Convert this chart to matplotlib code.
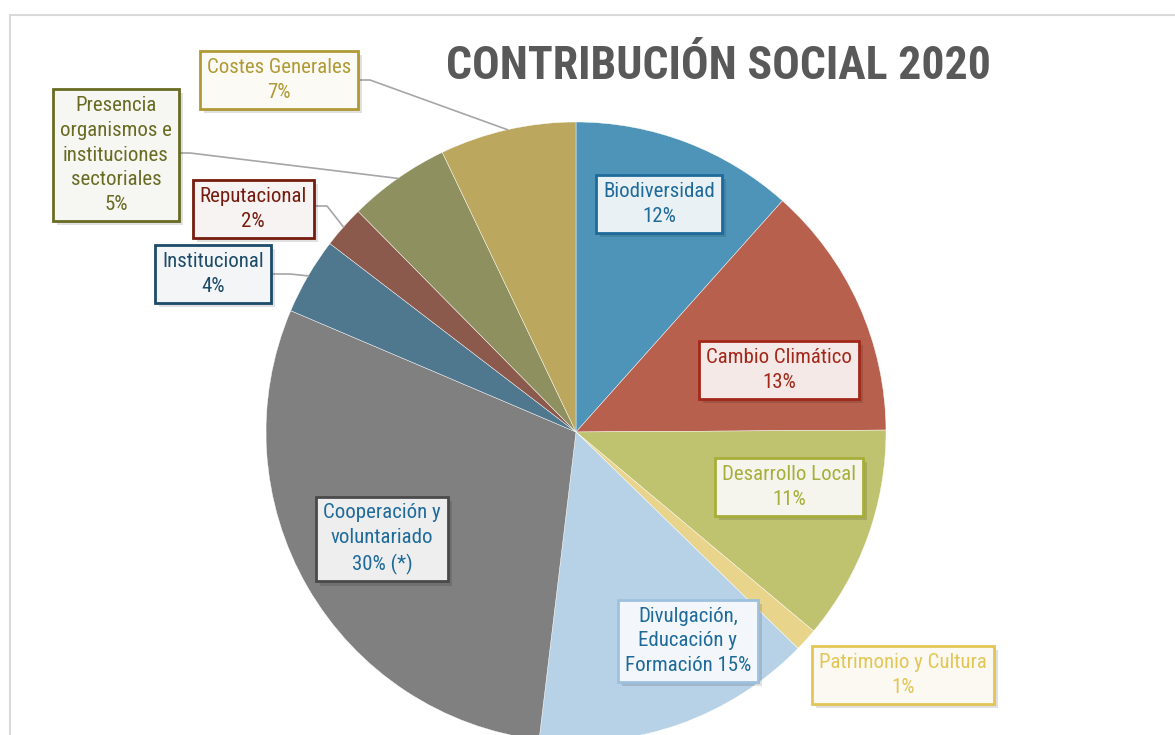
import matplotlib
matplotlib.use("Agg")
import matplotlib.pyplot as plt
import matplotlib.patheffects as pe
from matplotlib.patches import Rectangle
from matplotlib import font_manager as fm
import numpy as np

# ---- data ----
categories = ["Biodiversidad", "Cambio Climático", "Desarrollo Local", "Patrimonio y Cultura",
              "Divulgación, Educación y Formación", "Cooperación y voluntariado",
              "Institucional", "Reputacional", "Presencia organismos e instituciones sectoriales",
              "Costes Generales"]
values = [11.6, 13.3, 11.2, 1.2, 14.6, 29.5, 4.0, 2.2, 5.3, 7.1]
label_texts = ["Biodiversidad\n12%", "Cambio Climático\n13%", "Desarrollo Local\n11%",
               "Patrimonio y Cultura\n1%", "Divulgación,\nEducación y\nFormación 15%",
               "Cooperación y\nvoluntariado\n30% (*)", "Institucional\n4%", "Reputacional\n2%",
               "Presencia\norganismos e\ninstituciones\nsectoriales\n5%", "Costes Generales\n7%"]
title = "CONTRIBUCIÓN SOCIAL 2020"

slice_colors = ["#4E94B8", "#B8604E", "#BFC26E", "#E8D48A", "#B7D2E6",
                "#808080", "#4F788F", "#8C594D", "#8E905F", "#BBA75E"]
edge_colors = ["#1E6B9B", "#A3281A", "#A8AE3A", "#E3C655", "#9DC1DE",
               "#4A4A4A", "#1D4B6A", "#761C0F", "#686B22", "#B09A35"]
text_colors = ["#1E6B9B", "#A3281A", "#A8AE3A", "#E3C655", "#1E6B9B",
               "#1E6B9B", "#1D4B6A", "#761C0F", "#686B22", "#B09A35"]
face_colors = ["#EAF1F5", "#F5E9E7", "#F5F5EE", "#FBF9F2", "#F3F7FB",
               "#EEEEEE", "#F3F5F7", "#F7F3F2", "#F6F6F3", "#FBFAF5"]
# box centres in pixels (from top-left)
box_pos = [(659, 204), (779, 370), (789, 487), (903, 675), (688, 641),
           (382, 539), (213, 274), (253, 209), (116, 155), (279, 80)]

W, H = 1175, 735
fig = plt.figure(figsize=(W / 100, H / 100), dpi=100)
ax = fig.add_axes([0, 0, 1, 1])

names = {f.name for f in fm.fontManager.ttflist}
cond = None
for cand in ["Roboto Condensed", "Liberation Sans Narrow", "DejaVu Sans Condensed"]:
    if cand in names:
        cond = cand
        break
label_font = cond if cond else ("Roboto" if "Roboto" in names else "DejaVu Sans")
title_font = cond if cond else label_font

# border
ax.add_patch(Rectangle((10, -5), W + 10, H - 15 + 5, fill=False, ec="#D9D9D9", lw=1.5, zorder=0))

cx, cy, R = 576, H - 432, 310
wedges, _ = ax.pie(values, colors=slice_colors, startangle=90, counterclock=False,
                   center=(cx, cy), radius=R, frame=True,
                   wedgeprops=dict(edgecolor="white", linewidth=0.3))
ax.set_xlim(0, W)
ax.set_ylim(0, H)
ax.set_aspect("equal")
ax.axis("off")

# leader lines for outside labels: (index, box exit point, elbow point)
leaders = {9: [(360, 80), (370, 80)], 8: [(180, 153), (190, 153)],
           7: [(316, 206), (327, 206)], 6: [(272, 274), (290, 274)]}
for i, pts in leaders.items():
    w = wedges[i]
    th = np.deg2rad((w.theta1 + w.theta2) / 2)
    ex, ey = w.center[0] + w.r * np.cos(th), w.center[1] + w.r * np.sin(th)
    xs = [p[0] for p in pts] + [ex]
    ys = [H - p[1] for p in pts] + [ey]
    ax.plot(xs, ys, color="#A6A6A6", lw=1.2, zorder=3)

fs = 15 if cond else 13
for i, txt in enumerate(label_texts):
    x, y = box_pos[i]
    t = ax.text(x, H - y, txt, ha="center", va="center", fontsize=fs, family=label_font,
                fontweight="normal", color=text_colors[i], linespacing=1.38, zorder=5,
                bbox=dict(boxstyle="square,pad=0.33", fc=face_colors[i], ec=edge_colors[i], lw=2))
    t.get_bbox_patch().set_path_effects([
        pe.SimplePatchShadow(offset=(3, -3), alpha=0.12, shadow_rgbFace="#000000"),
        pe.SimplePatchShadow(offset=(1.5, -1.5), alpha=0.15, shadow_rgbFace="#000000"),
        pe.Normal()])

ax.text(718, H - 66, title, ha="center", va="center", fontsize=33, fontweight="bold",
        family=title_font, color="#595959")

fig.savefig("out.png", dpi=100)
